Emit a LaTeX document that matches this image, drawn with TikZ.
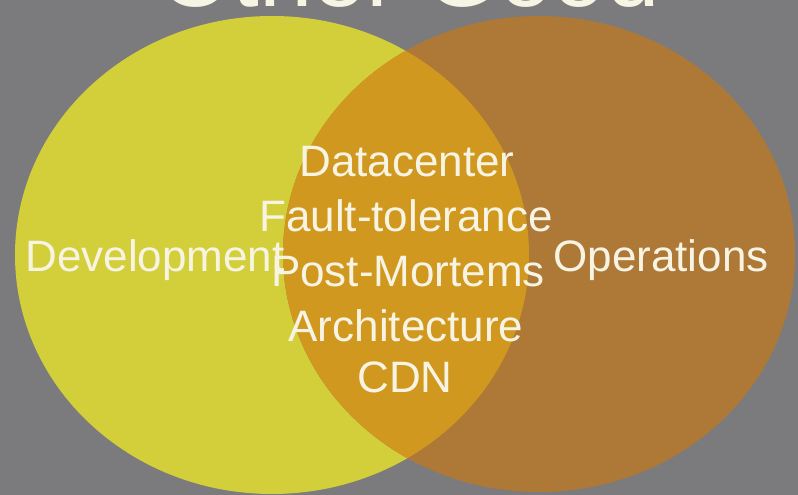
\documentclass[tikz,border=0pt]{standalone}
\usepackage{fontspec}
\setmainfont{Liberation Sans}
\definecolor{bggray}{HTML}{7B7B7D}
\definecolor{devyellow}{HTML}{D3CF3A}
\definecolor{opsbrown}{HTML}{AE7837}
\definecolor{overlaporange}{HTML}{D1981F}
\definecolor{txtwhite}{HTML}{F7F4E4}
\tikzset{
  lbl/.style={text=txtwhite, inner sep=0pt, anchor=base, font=\fontsize{44}{44}\selectfont},
  ttl/.style={text=txtwhite, inner sep=0pt, anchor=base, font=\fontsize{96}{96}\selectfont}
}
\begin{document}
\begin{tikzpicture}[x=1pt,y=1pt]
\useasboundingbox (0,0) rectangle (798,495);
\clip (0,0) rectangle (798,495);
\fill[bggray] (0,0) rectangle (798,495);
\node[ttl] (title) at (409,488) {Other Good};
\fill[devyellow] (272,240) ellipse [x radius=257, y radius=239];
\fill[opsbrown] (539,241) ellipse [x radius=256, y radius=238];
\begin{scope}
  \clip (272,240) ellipse [x radius=257, y radius=239];
  \fill[overlaporange] (539,241) ellipse [x radius=256, y radius=238];
\end{scope}
\node[lbl] (dev) at (155,223) {Development};
\node[lbl] (ops) at (661,223) {Operations};
\node[lbl] (dc) at (407,318) {Datacenter};
\node[lbl] (ft) at (406,263) {Fault-tolerance};
\node[lbl] (pm) at (408,208) {Post-Mortems};
\node[lbl] (arch) at (406,153) {Architecture};
\node[lbl] (cdn) at (405,102) {CDN};
\end{tikzpicture}
\end{document}
